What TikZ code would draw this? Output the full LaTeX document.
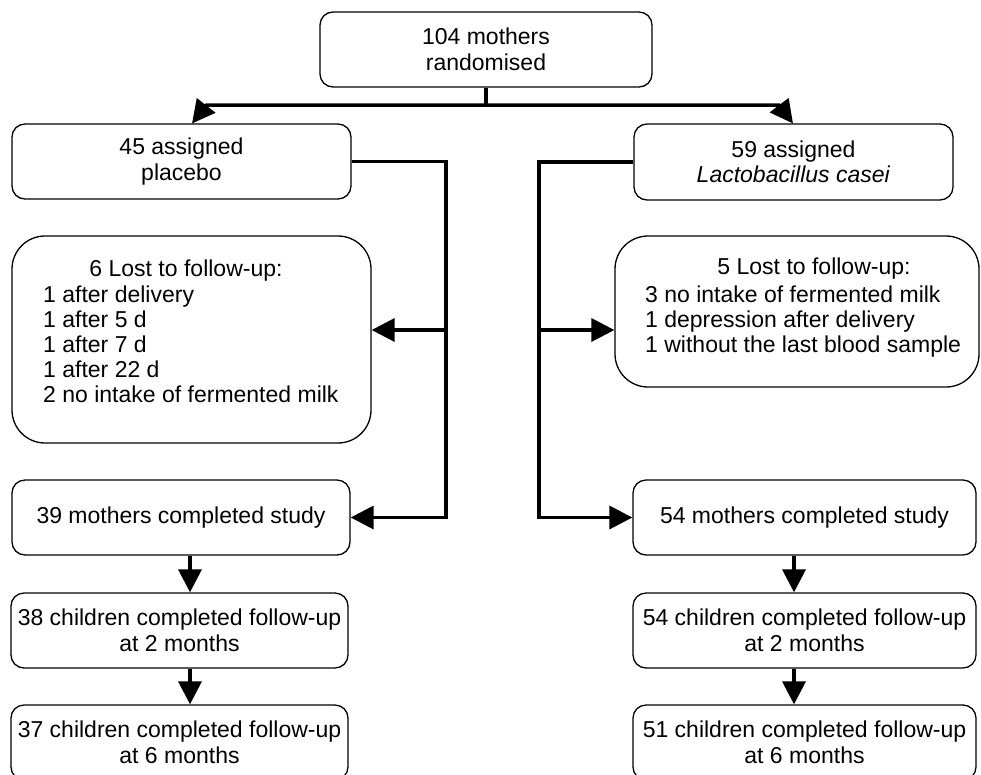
\documentclass[tikz,border=0pt]{standalone}
\usepackage{fontspec}
\setmainfont{Liberation Sans}
\usetikzlibrary{arrows.meta}
\begin{document}
\begin{tikzpicture}[x=1pt,y=-1pt,
  box/.style={draw,line width=1.3pt,rounded corners=13pt,align=center,inner sep=0pt,
    font=\fontsize{23}{25.5}\selectfont},
  bigbox/.style={box,rounded corners=33pt},
  conn/.style={line width=3.5pt},
  arr/.style={conn,-{Triangle[length=23pt,width=23pt]}},
  txt/.style={inner sep=0pt,font=\fontsize{23}{25}\selectfont}]
\useasboundingbox (0,0) rectangle (981,774);

% boxes
\node[box,minimum width=332pt,minimum height=75pt] (top) at (486,49.5) {104 mothers\\randomised};
\node[box,minimum width=339pt,minimum height=75pt] (pl) at (181.5,161.5) {45 assigned\\placebo};
\node[box,minimum width=319pt,minimum height=76pt] (pr) at (793.5,162) {59 assigned\\\textit{Lactobacillus casei}};

\node[bigbox,minimum width=359pt,minimum height=207pt] (lostL) at (191.5,339.5) {};
\node[txt,anchor=base] (lostLh) at (186,276) {6 Lost to follow-up:};
\node[txt,anchor=base west] (lostLl) at (43,302) {\begin{tabular}[t]{@{}l@{}}1 after delivery\\1 after 5 d\\1 after 7 d\\1 after 22 d\\2 no intake of fermented milk\end{tabular}};

\node[bigbox,minimum width=364pt,minimum height=151pt] (lostR) at (797,311.5) {};
\node[txt,anchor=base] (lostRh) at (814,274) {5 Lost to follow-up:};
\node[txt,anchor=base west] (lostRl) at (645,302) {\begin{tabular}[t]{@{}l@{}}3 no intake of fermented milk\\1 depression after delivery\\1 without the last blood sample\end{tabular}};

\node[box,minimum width=338pt,minimum height=75pt] (c39) at (181,517.5) {39 mothers completed study};
\node[box,minimum width=343pt,minimum height=75pt] (c54) at (804.5,517.5) {54 mothers completed study};
\node[box,minimum width=337pt,minimum height=75pt] (ch38) at (179.5,630.5) {38 children completed follow-up\\at 2 months};
\node[box,minimum width=343pt,minimum height=75pt] (ch54) at (804.5,630.5) {54 children completed follow-up\\at 2 months};
\node[box,minimum width=337pt,minimum height=75pt] (ch37) at (179.5,742.5) {37 children completed follow-up\\at 6 months};
\node[box,minimum width=343pt,minimum height=75pt] (ch51) at (804.5,742.5) {51 children completed follow-up\\at 6 months};

% connectors
\coordinate (split) at (486,105);
\draw[conn] (top.south) -- (split);
\draw[arr] (split) -- (206.5,105) -- (192,123.5);
\draw[arr] (split) -- (779,105) -- (793,123.5);

\coordinate (vL) at (446,330);
\coordinate (vR) at (539,330);
\draw[arr] (pl.east) -| (vL) |- (c39.east);
\draw[arr] (vL) -- (lostL.east |- vL);
\draw[arr] (pr.west) -| (vR) |- (c54.west);
\draw[arr] (vR) -- (lostR.west |- vR);

\coordinate (xl) at (190,0);
\coordinate (xr) at (794,0);
\draw[arr] (c39.south -| xl) -- (ch38.north -| xl);
\draw[arr] (ch38.south -| xl) -- (ch37.north -| xl);
\draw[arr] (c54.south -| xr) -- (ch54.north -| xr);
\draw[arr] (ch54.south -| xr) -- (ch51.north -| xr);
\end{tikzpicture}
\end{document}
